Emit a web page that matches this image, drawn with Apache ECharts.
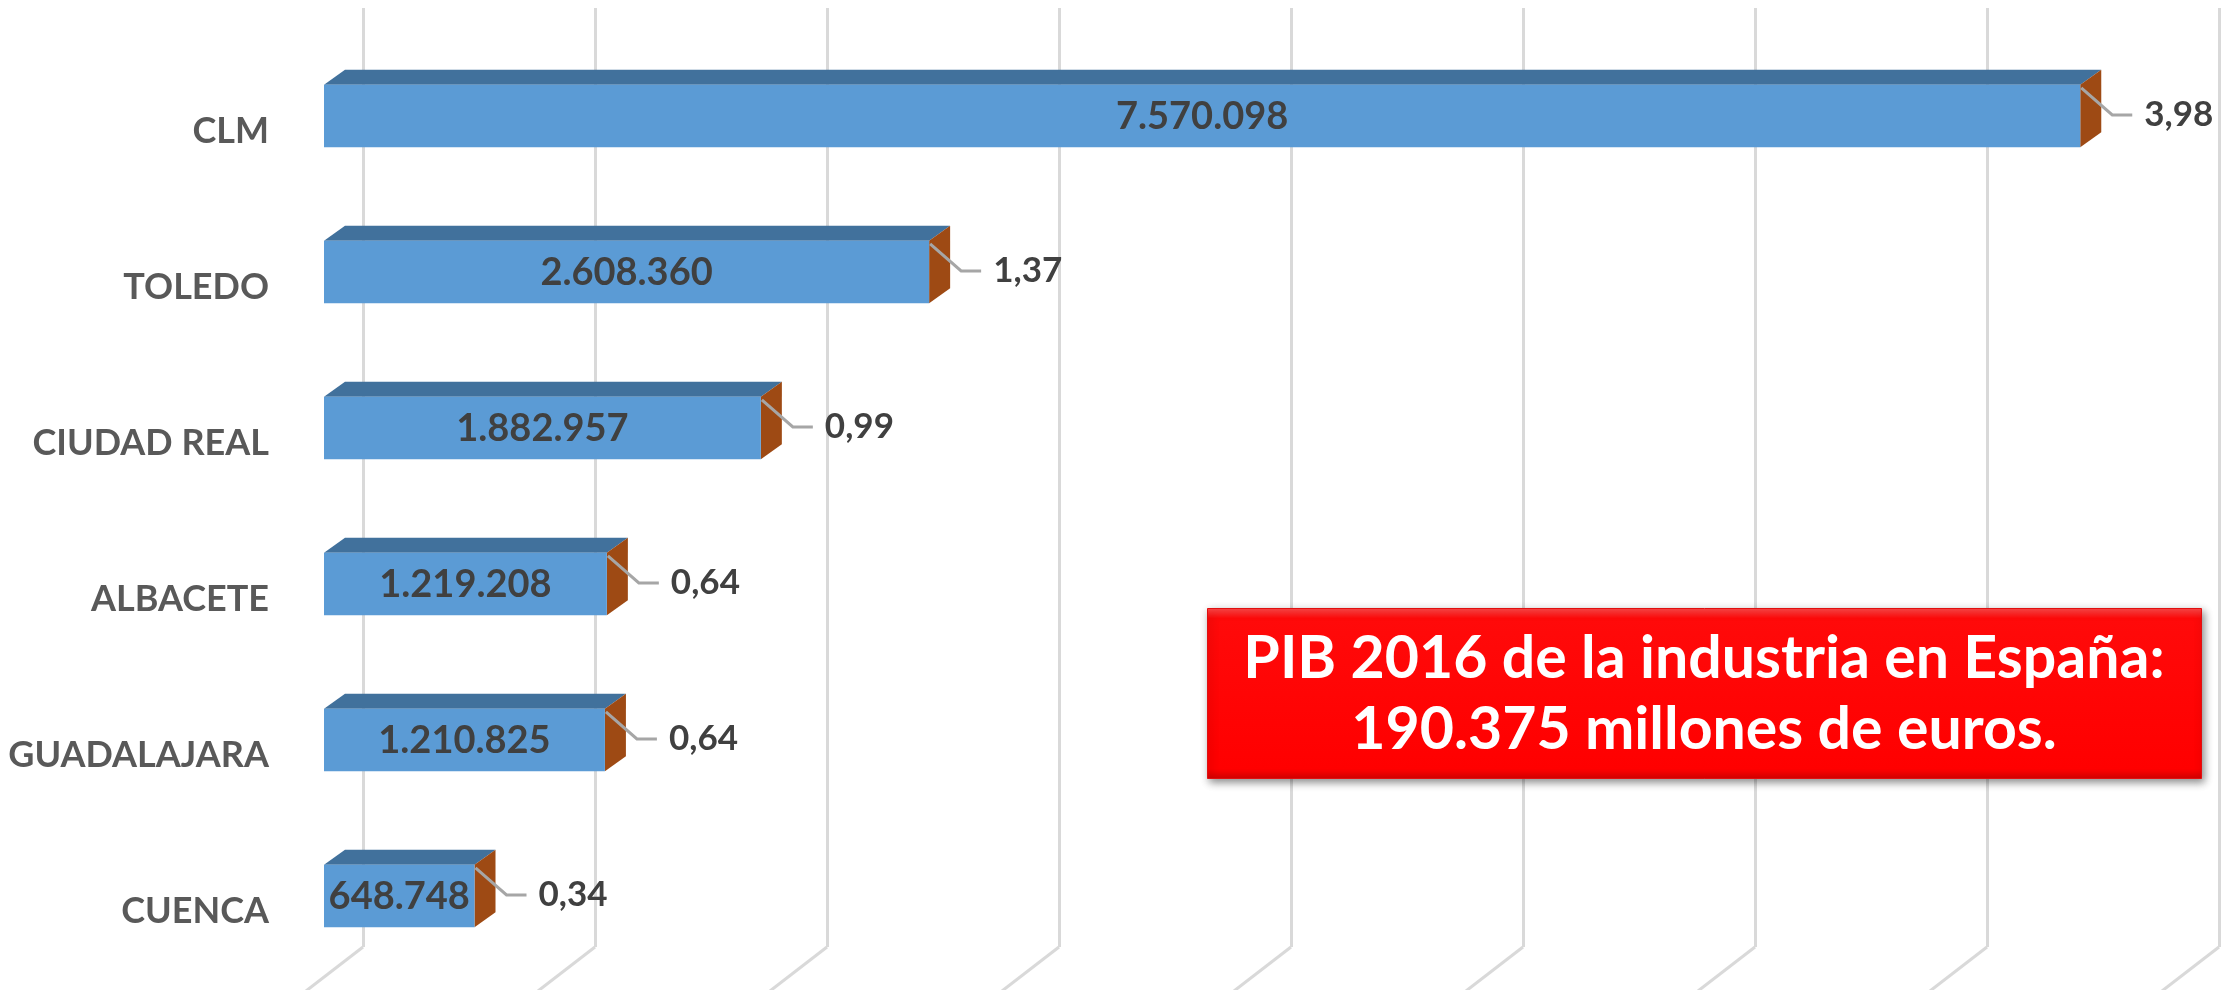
<!DOCTYPE html>
<html>
<head>
<meta charset="utf-8">
<script src="https://cdn.jsdelivr.net/npm/echarts@6/dist/echarts.min.js"></script>
<style>
  html, body { margin: 0; padding: 0; background: #fff; }
  #grafico { width: 2227px; height: 990px; }
</style>
</head>
<body>
<div id="grafico"></div>
<script>
// provincias y valores
const provincias = ["CLM", "TOLEDO", "CIUDAD REAL", "ALBACETE", "GUADALAJARA", "CUENCA"];
const pibIndustria = [7570098, 2608360, 1882957, 1219208, 1210825, 648748];
const porcentajes = [3.98, 1.37, 0.99, 0.64, 0.64, 0.34];
// lineas de la pared del fondo
const lineasPared = [0, 1000000, 2000000, 3000000, 4000000, 5000000, 6000000, 7000000, 8000000];

const fuente = "Lato, 'Open Sans', sans-serif";

function miles(n) {
  return String(n).replace(/\B(?=(\d{3})+(?!\d))/g, ".");
}
function coma(n) {
  return n.toFixed(2).replace(".", ",");
}

function barra3d(params, api) {
  let valor = api.value(0);
  let idx = api.value(1);
  let p0 = api.coord([0, idx]);
  let p1 = api.coord([valor, idx]);
  let h = api.size([0, 1])[1] * 0.4;
  let arriba = p0[1] - h / 2;
  let abajo = p0[1] + h / 2;
  let x0 = p0[0], x1 = p1[0];
  let dx = 21, dy = 15;
  let cy = p0[1] - 1;

  return {
    type: "group",
    children: [
      {
        type: "polygon",
        shape: { points: [[x0, arriba], [x0 + dx, arriba - dy], [x1 + dx, arriba - dy], [x1, arriba]] },
        style: { fill: "#41719C" }
      },
      {
        type: "polygon",
        shape: { points: [[x1, arriba], [x1 + dx, arriba - dy], [x1 + dx, abajo - dy], [x1, abajo]] },
        style: { fill: "#9E4A14" }
      },
      {
        type: "rect",
        shape: { x: x0, y: arriba, width: x1 - x0, height: h },
        style: { fill: "#5B9BD5" }
      },
      {
        type: "text",
        style: {
          x: (x0 + x1) / 2, y: p0[1] + 1,
          text: miles(valor),
          align: "center", verticalAlign: "middle",
          font: "bold 38px " + fuente, fill: "#404040"
        }
      },
      {
        type: "polyline",
        shape: { points: [[x1 + 1, arriba + 3], [x1 + 32, cy], [x1 + 52, cy]] },
        style: { stroke: "#A6A6A6", lineWidth: 3, fill: null }
      },
      {
        type: "text",
        style: {
          x: x1 + 64, y: cy,
          text: coma(porcentajes[idx]),
          align: "left", verticalAlign: "middle",
          font: "bold 35px " + fuente, fill: "#404040"
        }
      }
    ]
  };
}

function sueloLinea(params, api) {
  let p = api.coord([api.value(0), 0]);
  return {
    type: "polyline",
    shape: { points: [[p[0], p[1]], [p[0] - 57, p[1] + 44]] },
    style: { stroke: "#D9D9D9", lineWidth: 3, fill: null }
  };
}

let myChart = echarts.init(document.getElementById("grafico"));

let option = {
  backgroundColor: "#ffffff",
  animation: false,
  grid: [
    { left: 324, right: 47, top: 38, bottom: 16 },
    { left: 363, right: 8, top: 8, bottom: 43 }
  ],
  xAxis: [
    {
      gridIndex: 0, type: "value", min: 0, max: 8000000,
      axisLine: { show: false }, axisTick: { show: false },
      axisLabel: { show: false }, splitLine: { show: false }
    },
    {
      gridIndex: 1, type: "value", min: 0, max: 8000000, interval: 1000000,
      axisLine: { show: false }, axisTick: { show: false },
      axisLabel: { show: false },
      splitLine: { show: true, lineStyle: { color: "#D9D9D9", width: 3 } }
    }
  ],
  yAxis: [
    {
      gridIndex: 0, type: "category", data: provincias, inverse: true,
      axisLine: { show: false }, axisTick: { show: false },
      axisLabel: {
        margin: 55,
        fontFamily: fuente, fontWeight: "bold", fontSize: 36, color: "#595959",
        lineHeight: 30,
        formatter: v => "\n" + v
      }
    },
    {
      gridIndex: 1, type: "value", min: 0, max: 1, show: false
    }
  ],
  series: [
    {
      type: "custom",
      xAxisIndex: 1, yAxisIndex: 1,
      renderItem: sueloLinea,
      clip: false,
      silent: true,
      data: lineasPared.map(v => [v]),
      encode: { x: 0 },
      z: 1
    },
    {
      type: "custom",
      xAxisIndex: 0, yAxisIndex: 0,
      renderItem: barra3d,
      clip: false,
      data: pibIndustria.map((v, i) => [v, i]),
      encode: { x: 0, y: 1 },
      z: 5
    }
  ],
  graphic: [
    {
      type: "rect",
      left: 1207, top: 608,
      z: 100,
      shape: { width: 994, height: 170 },
      style: {
        fill: new echarts.graphic.LinearGradient(0, 0, 0, 1, [
          { offset: 0, color: "#FF4A4A" },
          { offset: 0.06, color: "#FF0A0A" },
          { offset: 0.94, color: "#FF0000" },
          { offset: 1, color: "#D40000" }
        ]),
        stroke: "#E01010", lineWidth: 1,
        shadowBlur: 8, shadowColor: "rgba(0,0,0,0.45)", shadowOffsetX: 2, shadowOffsetY: 3
      }
    },
    {
      type: "text",
      x: 1704, y: 694,
      z: 101,
      style: {
        text: "PIB 2016 de la industria en España:\n190.375 millones de euros.",
        align: "center", verticalAlign: "middle",
        font: "bold 59px " + fuente, lineHeight: 71,
        fill: "#ffffff"
      }
    }
  ]
};

myChart.setOption(option);
</script>
</body>
</html>
